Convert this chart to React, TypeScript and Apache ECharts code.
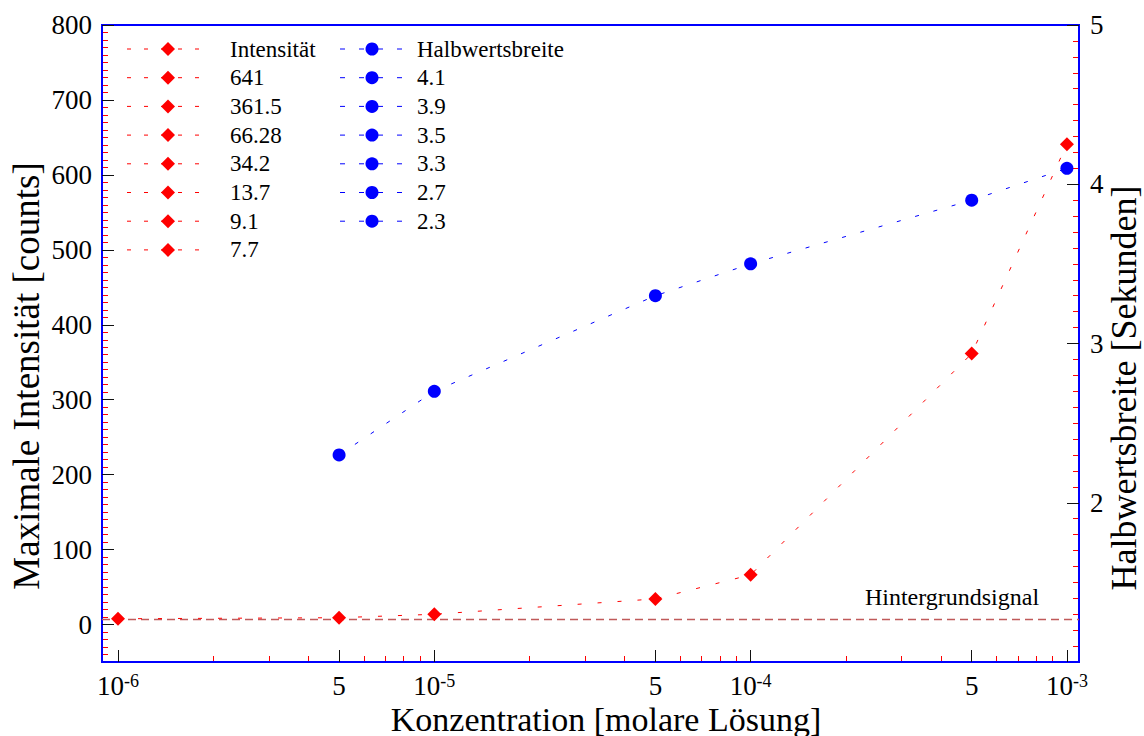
import React, { useEffect, useRef } from 'react';
import * as echarts from 'echarts';

// ---- data ----
const concentrations = [1e-6, 5e-6, 1e-5, 5e-5, 1e-4, 5e-4, 1e-3];
const intensity = [7.7, 9.1, 13.7, 34.2, 66.28, 361.5, 641];
const fwhmConcentrations = [5e-6, 1e-5, 5e-5, 1e-4, 5e-4, 1e-3];
const fwhm = [2.3, 2.7, 3.3, 3.5, 3.9, 4.1];
const backgroundSignal = 7.7;

const xMajorTicks = [1e-6, 5e-6, 1e-5, 5e-5, 1e-4, 5e-4, 1e-3];
const xMajorLabels = ['{b|10}{sup|-6}', '{b|5}', '{b|10}{sup|-5}', '{b|5}', '{b|10}{sup|-4}', '{b|5}', '{b|10}{sup|-3}'];
const xMinorTicks = [
  2e-6, 3e-6, 4e-6, 6e-6, 7e-6, 8e-6, 9e-6,
  2e-5, 3e-5, 4e-5, 6e-5, 7e-5, 8e-5, 9e-5,
  2e-4, 3e-4, 4e-4, 6e-4, 7e-4, 8e-4, 9e-4,
];
const leftTicks = [0, 100, 200, 300, 400, 500, 600, 700, 800];
const rightTicks = [2, 3, 4, 5];

const FONT = "'Liberation Serif', 'Times New Roman', serif";
const BLUE = '#0000ff';
const RED = '#ff0000';
const TICK = '#111111';

const X_MIN = 8.9e-7;
const X_MAX = 1.092e-3;

function xLabel(v: number): string {
  const i = xMajorTicks.findIndex((t) => Math.abs(t - v) / t < 1e-6);
  return i >= 0 ? xMajorLabels[i] : '';
}

function buildLegend() {
  const children: any[] = [];
  const y0 = 49;
  const dy = 28.7;
  const redTexts = ['Intensität', ...intensity.slice().reverse().map(String)];
  const blueTexts = ['Halbwertsbreite', ...fwhm.slice().reverse().map(String)];
  redTexts.forEach((t, i) => {
    const y = y0 + i * dy;
    children.push({
      type: 'line',
      shape: { x1: 127, y1: y, x2: 210, y2: y },
      style: { stroke: RED, lineWidth: 1, lineDash: [4, 13] },
    });
    children.push({
      type: 'polygon',
      shape: { points: [[168, y - 7], [175, y], [168, y + 7], [161, y]] },
      style: { fill: RED },
    });
    children.push({
      type: 'text',
      x: 230,
      y,
      style: { text: t, font: `23px ${FONT}`, fill: '#000', verticalAlign: 'middle', align: 'left' },
    });
  });
  blueTexts.forEach((t, i) => {
    const y = y0 + i * dy;
    children.push({
      type: 'line',
      shape: { x1: 340, y1: y, x2: 402, y2: y },
      style: { stroke: BLUE, lineWidth: 1, lineDash: [5, 14] },
    });
    children.push({
      type: 'circle',
      shape: { cx: 372, cy: y, r: 6.5 },
      style: { fill: BLUE },
    });
    children.push({
      type: 'text',
      x: 417,
      y,
      style: { text: t, font: `23px ${FONT}`, fill: '#000', verticalAlign: 'middle', align: 'left' },
    });
  });
  return children;
}

export default function App() {
  const ref = useRef<HTMLDivElement>(null);
  useEffect(() => {
    const chart = echarts.init(ref.current!, null, { renderer: 'svg' });
    const option: any = {
      animation: false,
      backgroundColor: '#fff',
      textStyle: { fontFamily: FONT },
      grid: { left: 102, top: 25, right: 65, bottom: 74, show: true, borderColor: BLUE, borderWidth: 2 },
      xAxis: [
        {
          type: 'log', logBase: 10, min: X_MIN, max: X_MAX, position: 'bottom', z: 3,
          axisLine: { show: true, onZero: false, lineStyle: { color: BLUE, width: 2 } },
          axisTick: { show: true, inside: true, length: 12, customValues: xMajorTicks, lineStyle: { color: TICK, width: 1 } },
          axisLabel: {
            show: true, customValues: xMajorTicks, margin: 10, formatter: (v: number) => xLabel(v),
            fontFamily: FONT,
            rich: {
              b: { fontSize: 27, fontFamily: FONT, color: '#000', lineHeight: 28 },
              sup: { fontSize: 18, fontFamily: FONT, color: '#000', lineHeight: 16, verticalAlign: 'top' },
            },
          },
          splitLine: { show: false },
        },
        {
          type: 'log', logBase: 10, min: X_MIN, max: X_MAX, position: 'bottom', z: 2,
          axisLine: { show: false, onZero: false },
          axisTick: { show: true, inside: true, length: 6, customValues: xMinorTicks, lineStyle: { color: RED, width: 1 } },
          axisLabel: { show: false },
          splitLine: { show: false },
        },
      ],
      yAxis: [
        {
          type: 'value', position: 'left', min: -50, max: 800, z: 3,
          axisLine: { show: true, onZero: false, lineStyle: { color: BLUE, width: 2 } },
          axisTick: { show: true, inside: true, length: 12, customValues: leftTicks, lineStyle: { color: TICK, width: 1 } },
          axisLabel: { show: true, customValues: leftTicks, margin: 10, fontSize: 27, fontFamily: FONT, color: '#000' },
          splitLine: { show: false },
        },
        {
          type: 'value', position: 'left', min: -50, max: 800, interval: 10, z: 2,
          axisLine: { show: false, onZero: false },
          axisTick: { show: true, inside: true, length: 6, lineStyle: { color: RED, width: 1 } },
          axisLabel: { show: false },
          splitLine: { show: false },
        },
        {
          type: 'value', position: 'right', min: 1, max: 5, z: 3,
          axisLine: { show: true, onZero: false, lineStyle: { color: BLUE, width: 2 } },
          axisTick: { show: true, inside: true, length: 12, customValues: rightTicks, lineStyle: { color: TICK, width: 1 } },
          axisLabel: { show: true, customValues: rightTicks, margin: 11, fontSize: 27, fontFamily: FONT, color: '#000' },
          splitLine: { show: false },
        },
        {
          type: 'value', position: 'right', min: 1, max: 5, interval: 0.1, z: 2,
          axisLine: { show: false, onZero: false },
          axisTick: { show: true, inside: true, length: 6, lineStyle: { color: RED, width: 1 } },
          axisLabel: { show: false },
          splitLine: { show: false },
        },
      ],
      series: [
        {
          type: 'line', name: 'Intensität', xAxisIndex: 0, yAxisIndex: 0, z: 5,
          data: concentrations.map((c, i) => [c, intensity[i]]),
          symbol: 'diamond', symbolSize: 14,
          itemStyle: { color: RED },
          lineStyle: { color: RED, width: 1, type: [4, 16] },
          markLine: {
            silent: true, symbol: 'none', animation: false,
            data: [{ yAxis: backgroundSignal }],
            lineStyle: { color: '#c05a5a', width: 1.3, type: [8, 5] },
            label: { show: false },
          },
        },
        {
          type: 'line', name: 'Halbwertsbreite', xAxisIndex: 0, yAxisIndex: 2, z: 4,
          data: fwhmConcentrations.map((c, i) => [c, fwhm[i]]),
          symbol: 'circle', symbolSize: 13,
          itemStyle: { color: BLUE },
          lineStyle: { color: BLUE, width: 1, type: [4, 15] },
        },
      ],
      graphic: [
        { type: 'group', children: buildLegend() },
        {
          type: 'text', x: 952, y: 597,
          style: { text: 'Hintergrundsignal', font: `24px ${FONT}`, fill: '#000', align: 'center', verticalAlign: 'middle' },
        },
        {
          type: 'text', x: 606, y: 719,
          style: { text: 'Konzentration [molare Lösung]', font: `34px ${FONT}`, fill: '#000', align: 'center', verticalAlign: 'middle' },
        },
        {
          type: 'text', x: 26, y: 376, rotation: Math.PI / 2,
          style: { text: 'Maximale Intensität [counts]', font: `37px ${FONT}`, fill: '#000', align: 'center', verticalAlign: 'middle' },
        },
        {
          type: 'text', x: 1124, y: 388, rotation: Math.PI / 2,
          style: { text: 'Halbwertsbreite [Sekunden]', font: `36px ${FONT}`, fill: '#000', align: 'center', verticalAlign: 'middle' },
        },
      ],
    };
    chart.setOption(option);
    return () => chart.dispose();
  }, []);
  return (
    <div
      ref={ref}
      style={{ position: 'fixed', left: 0, top: 0, width: 1144, height: 736, background: '#fff' }}
    />
  );
}
